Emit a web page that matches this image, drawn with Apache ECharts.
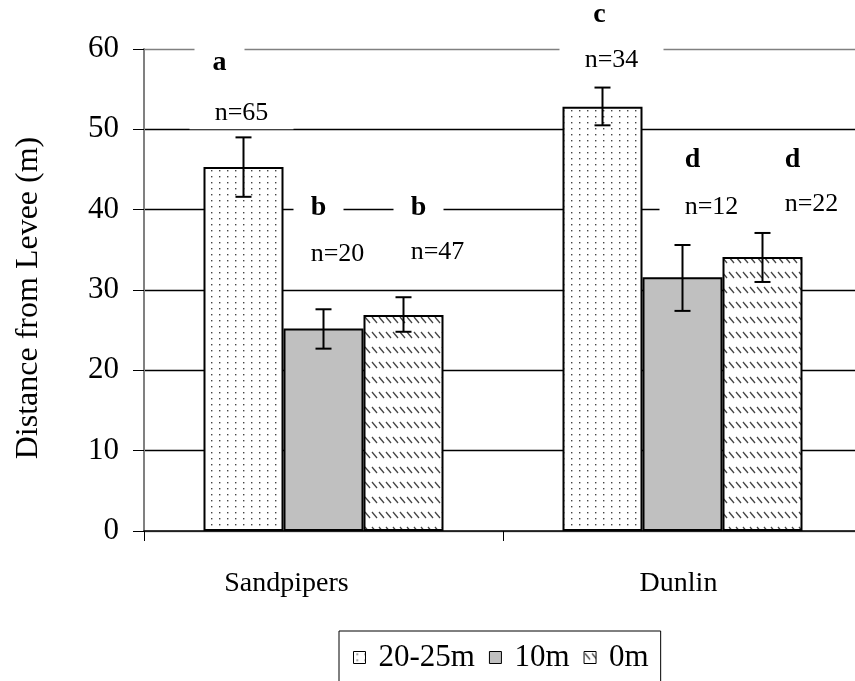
<!DOCTYPE html>
<html>
<head>
<meta charset="utf-8">
<script src="https://cdn.jsdelivr.net/npm/echarts@6/dist/echarts.min.js"></script>
<style>
  html, body { margin: 0; padding: 0; background: #fff; }
  #chart { width: 855px; height: 681px; }
</style>
</head>
<body>
<div id="chart"></div>
<script>
const categories = ['Sandpipers', 'Dunlin']
const seriesNames = ['20-25m', '10m', '0m']

// means and error bar ends, per category
const mean2025 = [45.3, 52.8]
const mean10 = [25.2, 31.6]
const mean0 = [26.9, 34.1]
const high2025 = [49.0, 55.2]
const low2025 = [41.6, 50.5]
const high10 = [27.6, 35.6]
const low10 = [22.7, 27.4]
const high0 = [29.1, 37.1]
const low0 = [24.8, 31.0]

// significance letters and sample sizes, [category][bar]
const letters = [['a', 'b', 'b'], ['c', 'd', 'd']]
const nCounts = [[65, 20, 47], [34, 12, 22]]

const yTicks = [0, 10, 20, 30, 40, 50, 60]

// where the text boxes sit (value on the y axis, px shift from bar centre)
const letterY = [[58.3, 40.2, 40.2], [64.2, 46.2, 46.2]]
const letterDx = [[-24, -5, 15], [-3, 10, 30]]
const nY = [[52.0, 34.4, 34.7], [58.6, 40.3, 40.7]]
const nDx = [[-2, 14, 34], [9, 29, 49]]

const FONT = '"Liberation Serif", "Times New Roman", serif'
const BAR_W = 80

function dotPattern() {
  const c = document.createElement('canvas')
  c.width = 8
  c.height = 6
  const g = c.getContext('2d')
  g.fillStyle = '#fff'
  g.fillRect(0, 0, 8, 6)
  g.fillStyle = '#444'
  g.fillRect(3, 2, 1.4, 1.4)
  return c
}

function dashPattern() {
  const c = document.createElement('canvas')
  c.width = 7
  c.height = 15
  const g = c.getContext('2d')
  g.fillStyle = '#fff'
  g.fillRect(0, 0, 7, 15)
  g.strokeStyle = '#444'
  g.lineWidth = 1.3
  g.beginPath()
  g.moveTo(1, 2)
  g.lineTo(6, 8)
  g.stroke()
  return c
}

const fills = [
  { image: dotPattern(), repeat: 'repeat' },
  '#c0c0c0',
  { image: dashPattern(), repeat: 'repeat' },
]
const means = [mean2025, mean10, mean0]
const highs = [high2025, high10, high0]
const lows = [low2025, low10, low0]

const chart = echarts.init(document.getElementById('chart'))

function errorSeries(i) {
  return {
    type: 'custom',
    name: 'err' + i,
    z: 5,
    data: categories.map((c, k) => [k, lows[i][k], highs[i][k]]),
    renderItem: (params, api) => {
      const dx = (i - 1) * BAR_W
      const top = api.coord([api.value(0), api.value(2)])
      const bot = api.coord([api.value(0), api.value(1)])
      const x = top[0] + dx
      const style = { stroke: '#000', lineWidth: 2 }
      return {
        type: 'group',
        children: [
          { type: 'line', shape: { x1: x, y1: top[1], x2: x, y2: bot[1] }, style },
          { type: 'line', shape: { x1: x - 8, y1: top[1], x2: x + 8, y2: top[1] }, style },
          { type: 'line', shape: { x1: x - 8, y1: bot[1], x2: x + 8, y2: bot[1] }, style },
        ],
      }
    },
  }
}

function textSeries(name, texts, ys, dxs, boxW, boxH, fontSize, bold) {
  const rows = []
  const strs = []
  categories.forEach((c, k) => {
    for (let i = 0; i < 3; i++) {
      rows.push([k, ys[k][i], i, dxs[k][i]])
      strs.push(texts[k][i])
    }
  })
  return {
    type: 'custom',
    name,
    z: 4,
    data: rows,
    renderItem: (params, api) => {
      const p = api.coord([api.value(0), api.value(1)])
      const x = p[0] + (api.value(2) - 1) * BAR_W + api.value(3)
      const y = p[1]
      return {
        type: 'group',
        children: [
          {
            type: 'rect',
            shape: { x: x - boxW / 2, y: y - boxH / 2, width: boxW, height: boxH },
            style: { fill: '#fff' },
          },
          {
            type: 'text',
            x,
            y,
            style: {
              text: strs[params.dataIndex],
              fill: '#000',
              font: (bold ? 'bold ' : '') + fontSize + 'px ' + FONT,
              align: 'center',
              verticalAlign: 'middle',
            },
          },
        ],
      }
    },
  }
}

const option = {
  animation: false,
  grid: { left: 144, width: 718, top: 49, bottom: 150, outerBoundsMode: 'none', containLabel: false },
  legend: {
    data: seriesNames,
    left: 339,
    top: 631,
    padding: [11, 12, 40, 14],
    borderColor: '#000',
    borderWidth: 1,
    itemWidth: 12,
    itemHeight: 12,
    itemGap: 14,
    icon: 'rect',
    itemStyle: { borderWidth: 1 },
    textStyle: { fontSize: 31, fontFamily: FONT, color: '#000', padding: [0, 0, 0, 8] },
  },
  xAxis: {
    type: 'category',
    data: categories,
    axisLine: { lineStyle: { color: '#000', width: 1.5 } },
    axisTick: { show: true, length: 10, lineStyle: { color: '#000' } },
    axisLabel: {
      fontSize: 28,
      fontFamily: FONT,
      color: '#000',
      margin: 39,
      formatter: (v) => (v === 'Sandpipers' ? '{s|' + v + '}' : '{d|' + v + '}'),
      rich: {
        s: { fontSize: 28, fontFamily: FONT, color: '#000', padding: [0, 74, 0, 0] },
        d: { fontSize: 28, fontFamily: FONT, color: '#000', padding: [0, 8, 0, 0] },
      },
    },
  },
  yAxis: {
    type: 'value',
    min: yTicks[0],
    max: yTicks[yTicks.length - 1],
    interval: 10,
    name: 'Distance from Levee (m)',
    nameLocation: 'middle',
    nameRotate: 90,
    nameGap: 99,
    nameTextStyle: { fontSize: 32, fontFamily: FONT, color: '#000', padding: [0, 16, 0, 0] },
    axisLine: { show: true, lineStyle: { color: '#808080', width: 2 } },
    axisTick: { show: true, length: 11, lineStyle: { color: '#000' } },
    axisLabel: { fontSize: 31, fontFamily: FONT, color: '#000', margin: 25 },
    splitLine: {
      lineStyle: {
        color: ['#808080', '#000', '#000', '#000', '#000', '#000', '#808080'],
        width: 1.3,
      },
    },
  },
  series: [
    ...seriesNames.map((name, i) => ({
      type: 'bar',
      name,
      data: means[i],
      barWidth: BAR_W,
      barGap: '0%',
      itemStyle: { color: fills[i], borderColor: '#000', borderWidth: 2 },
    })),
    errorSeries(0),
    errorSeries(1),
    errorSeries(2),
    textSeries('letters', letters, letterY, letterDx, 50, 30, 28, true),
    textSeries('counts', nCounts.map((r) => r.map((n) => 'n=' + n)), nY, nDx, 104, 32, 26, false),
  ],
}

chart.setOption(option)
</script>
</body>
</html>
